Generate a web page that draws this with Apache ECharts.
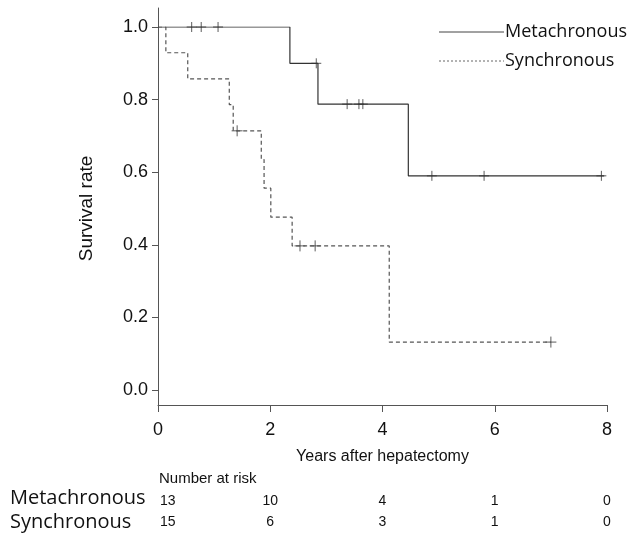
<!DOCTYPE html>
<html><head><meta charset="utf-8">
<script src="https://cdn.jsdelivr.net/npm/echarts@6/dist/echarts.min.js"></script>
<style>html,body{margin:0;padding:0;background:#fff}#c{width:631px;height:534px}</style>
</head><body><div id="c"></div>
<script>
// Kaplan-Meier step points [years, survival]
const metaTimes = [0, 2.35, 2.85, 4.46, 7.95];
const metaSurv  = [1.0, 0.9, 0.7875, 0.59, 0.59];
const metaCensorT = [0.6, 0.77, 1.07, 2.82, 3.37, 3.58, 3.65, 4.88, 5.81, 7.9];
const metaCensorS = [1.0, 1.0, 1.0, 0.9, 0.7875, 0.7875, 0.7875, 0.59, 0.59, 0.59];

const syncTimes = [0, 0.14, 0.53, 1.27, 1.34, 1.84, 1.89, 2.01, 2.39, 4.12, 7.0];
const syncSurv  = [1.0, 0.929, 0.857, 0.786, 0.714, 0.635, 0.556, 0.476, 0.397, 0.132, 0.132];
const syncCensorT = [1.41, 2.53, 2.8, 7.0];
const syncCensorS = [0.714, 0.397, 0.397, 0.132];

const riskTimes = [0, 2, 4, 6, 8];
const riskMeta = [13, 10, 4, 1, 0];
const riskSync = [15, 6, 3, 1, 0];
const seriesNames = ['Metachronous', 'Synchronous'];

const zip = (a, b) => a.map((v, i) => [v, b[i]]);
const plus = 'path://M5,0L5,10M0,5L10,5';
const vbar = 'path://M5,0L5,10M4.9,5L5.1,5';
const LS = 'Liberation Sans';

const chart = echarts.init(document.getElementById('c'), null, {renderer: 'canvas'});
const axisCol = '#555';
chart.setOption({
  animation: false,
  backgroundColor: '#fff',
  textStyle: {fontFamily: LS},
  grid: [
    {left: 158, right: 24, top: 27, bottom: 144},
    {left: 158, right: 24, top: 8, bottom: 129}
  ],
  xAxis: [
    {gridIndex: 0, type: 'value', min: 0, max: 8, show: false},
    {gridIndex: 1, type: 'value', min: 0, max: 8, interval: 2,
     axisLine: {show: true, lineStyle: {color: axisCol, width: 1}},
     axisTick: {show: true, length: 7, lineStyle: {color: axisCol}},
     axisLabel: {fontSize: 18, color: '#111', margin: 16, fontFamily: LS},
     splitLine: {show: false},
     name: 'Years after hepatectomy', nameLocation: 'middle', nameGap: 44,
     nameTextStyle: {fontSize: 16, color: '#111', fontFamily: LS}}
  ],
  yAxis: [
    {gridIndex: 0, type: 'value', min: 0, max: 1, interval: 0.2,
     axisLine: {show: false},
     axisTick: {show: true, length: 6, lineStyle: {color: axisCol}},
     axisLabel: {fontSize: 18, color: '#111', margin: 10, fontFamily: LS, formatter: v => v.toFixed(1)},
     splitLine: {show: false},
     name: 'Survival rate', nameLocation: 'middle', nameGap: 62,
     nameTextStyle: {fontSize: 19, color: '#111', fontFamily: LS}},
    {gridIndex: 1, type: 'value', min: 0, max: 1,
     axisLine: {show: true, lineStyle: {color: axisCol, width: 1}},
     axisTick: {show: false}, axisLabel: {show: false}, splitLine: {show: false}}
  ],
  series: [
    {name: seriesNames[0], type: 'line', step: 'end', xAxisIndex: 0, yAxisIndex: 0,
     symbol: 'none', data: zip(metaTimes, metaSurv),
     lineStyle: {color: '#333', width: 1.2}},
    {name: seriesNames[1], type: 'line', step: 'end', xAxisIndex: 0, yAxisIndex: 0,
     symbol: 'none', data: zip(syncTimes, syncSurv),
     lineStyle: {color: '#555', width: 1.2, type: [4, 3]}},
    {name: 'mc', type: 'scatter', xAxisIndex: 0, yAxisIndex: 0, clip: false,
     symbol: vbar, symbolSize: [10, 10], data: zip(metaCensorT, metaCensorS),
     itemStyle: {color: 'rgba(0,0,0,0)', borderColor: '#333', borderWidth: 1}},
    {name: 'sc', type: 'scatter', xAxisIndex: 0, yAxisIndex: 0, clip: false,
     symbol: plus, symbolSize: [11, 11], data: zip(syncCensorT, syncCensorS),
     itemStyle: {color: 'rgba(0,0,0,0)', borderColor: '#333', borderWidth: 1}}
  ]
});

const g = [];
// legend
g.push({type: 'line', shape: {x1: 439, y1: 32, x2: 504, y2: 32}, style: {stroke: '#444', lineWidth: 1}});
g.push({type: 'text', x: 505, y: 32, style: {text: seriesNames[0], fontSize: 18, fill: '#111', fontFamily: 'Open Sans', verticalAlign: 'middle'}});
g.push({type: 'line', shape: {x1: 439, y1: 61, x2: 504, y2: 61}, style: {stroke: '#666', lineWidth: 1, lineDash: [2, 2]}});
g.push({type: 'text', x: 505, y: 61, style: {text: seriesNames[1], fontSize: 18, fill: '#111', fontFamily: 'Open Sans', verticalAlign: 'middle'}});

// Number-at-risk table, positioned from the x axis scale
const p0 = chart.convertToPixel({gridIndex: 1}, [0, 0]);
g.push({type: 'text', x: p0[0] + 1, y: 479, style: {text: 'Number at risk', fontSize: 15, fill: '#111', fontFamily: LS, verticalAlign: 'middle'}});
g.push({type: 'text', x: 10, y: 498, style: {text: seriesNames[0], fontSize: 20, fill: '#111', fontFamily: 'Open Sans', verticalAlign: 'middle'}});
g.push({type: 'text', x: 10, y: 522, style: {text: seriesNames[1], fontSize: 20, fill: '#111', fontFamily: 'Open Sans', verticalAlign: 'middle'}});
riskTimes.forEach((t, i) => {
  const px = chart.convertToPixel({gridIndex: 1}, [t, 0])[0];
  const align = i === 0 ? 'left' : 'center';
  const x = i === 0 ? px + 2 : px;
  g.push({type: 'text', x: x, y: 501, style: {text: String(riskMeta[i]), fontSize: 14, fill: '#111', align: align, verticalAlign: 'middle', fontFamily: LS}});
  g.push({type: 'text', x: x, y: 522, style: {text: String(riskSync[i]), fontSize: 14, fill: '#111', align: align, verticalAlign: 'middle', fontFamily: LS}});
});
chart.setOption({graphic: g});
</script></body></html>
